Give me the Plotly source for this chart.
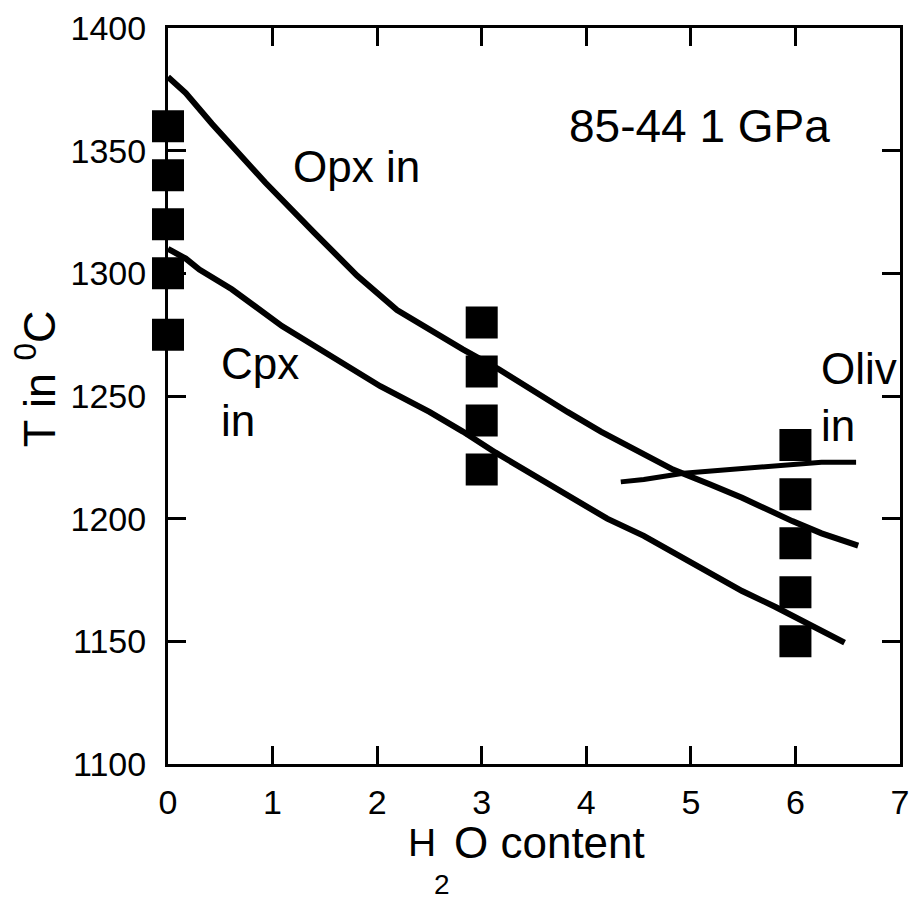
import plotly.graph_objects as go

# ---- data ----
exp_x = [0, 0, 0, 0, 0, 3, 3, 3, 3, 6, 6, 6, 6, 6]
exp_T = [1360, 1340, 1320, 1300, 1275, 1280, 1260, 1240, 1220, 1230, 1210, 1190, 1170, 1150]

opx_x = [0, 0.17, 0.42, 0.93, 1.40, 1.81, 2.19, 2.5, 2.82, 3.16, 3.51, 3.82, 4.14, 4.52,
         4.83, 5.18, 5.49, 5.97, 6.25, 6.6]
opx_T = [1380, 1373.5, 1361, 1337, 1316.5, 1299, 1285, 1277, 1269, 1261, 1251.5, 1243.5,
         1235.5, 1227, 1220, 1214, 1208.5, 1199, 1194, 1189]

cpx_x = [0, 0.17, 0.30, 0.61, 1.09, 1.56, 2.03, 2.5, 2.82, 3.13, 3.45, 3.86, 4.2, 4.55,
         4.86, 5.18, 5.49, 5.81, 6.19, 6.47]
cpx_T = [1310, 1306, 1301.5, 1293.5, 1278.5, 1266.5, 1254, 1243.5, 1235.5, 1227, 1219,
         1208.5, 1200, 1193, 1185.5, 1177.5, 1170.5, 1164, 1155.5, 1149.5]

oliv_x = [4.33, 4.55, 4.93, 5.49, 5.87, 6.25, 6.58]
oliv_T = [1215, 1216, 1218.5, 1220.5, 1222, 1223, 1223]

x_ticks = [0, 1, 2, 3, 4, 5, 6, 7]
y_ticks = [1100, 1150, 1200, 1250, 1300, 1350, 1400]

FONT = "Arial, Liberation Sans, sans-serif"

fig = go.Figure()
fig.add_trace(go.Scatter(x=opx_x, y=opx_T, mode="lines",
                         line=dict(color="black", width=6), showlegend=False))
fig.add_trace(go.Scatter(x=cpx_x, y=cpx_T, mode="lines",
                         line=dict(color="black", width=6), showlegend=False))
fig.add_trace(go.Scatter(x=oliv_x, y=oliv_T, mode="lines",
                         line=dict(color="black", width=5), showlegend=False))
fig.add_trace(go.Scatter(x=exp_x, y=exp_T, mode="markers",
                         marker=dict(symbol="square", size=32, color="black",
                                     line=dict(width=0)),
                         cliponaxis=False, showlegend=False))

axis_common = dict(showline=True, linecolor="black", linewidth=3, mirror="ticks",
                   ticks="inside", ticklen=18, tickwidth=2.5, tickcolor="black",
                   showgrid=False, zeroline=False, layer="below traces",
                   tickfont=dict(family=FONT, size=34, color="black"))

fig.update_xaxes(range=[0, 7], tickvals=x_ticks, ticklabelstandoff=6, **axis_common)
fig.update_yaxes(range=[1100, 1400], tickvals=y_ticks, ticklabelstandoff=12, **axis_common)

ann = []
def txt(x, y, s, size, xref="x", yref="y", xanchor="left", yanchor="middle", angle=0, align="left"):
    ann.append(dict(x=x, y=y, xref=xref, yref=yref, text=s, showarrow=False,
                    xanchor=xanchor, yanchor=yanchor, textangle=angle, align=align,
                    font=dict(family=FONT, size=size, color="black")))

txt(3.82, 1360, "85-44 1 GPa", 46)
txt(1.18, 1343.6, "Opx in", 44)
txt(0.483, 1251.5, "Cpx<br>in", 44)
txt(6.23, 1249.5, "Oliv<br>in", 44)

# axis titles (paper coordinates relative to plot area 168..909 x 23..764)
def px(xp):
    return (xp - 168) / 741.0
def py(yp):
    return (764 - yp) / 741.0

txt(px(34), py(376), "T in <sup>0</sup>C", 45, xref="paper", yref="paper",
    xanchor="center", yanchor="middle", angle=-90)
txt(px(409), py(843), "H", 39, xref="paper", yref="paper", xanchor="left")
txt(px(445.5), py(885), "2", 28, xref="paper", yref="paper", xanchor="center")
txt(px(455), py(843), "O content", 44, xref="paper", yref="paper", xanchor="left")

fig.update_layout(width=918, height=902, autosize=False,
                  margin=dict(l=168, r=9, t=23, b=138),
                  paper_bgcolor="white", plot_bgcolor="white",
                  font=dict(family=FONT, color="black"),
                  annotations=ann, showlegend=False)

fig.write_html("out.html")
